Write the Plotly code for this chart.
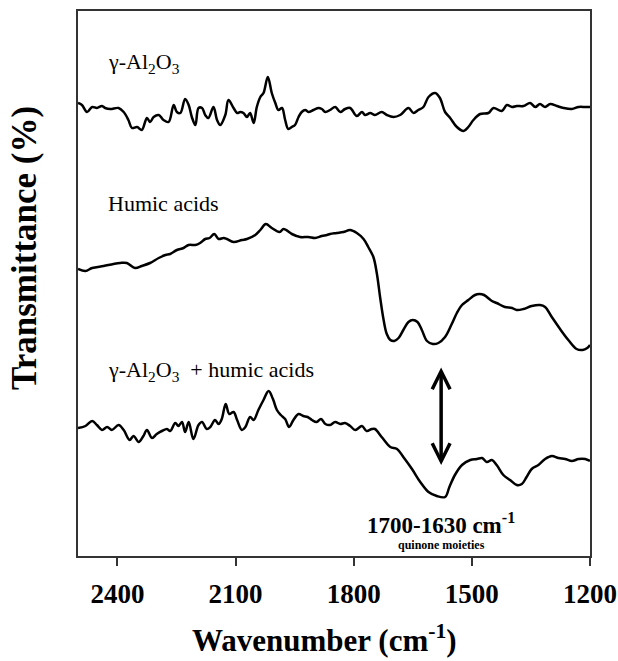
import plotly.graph_objects as go

# gamma-Al2O3 spectrum (wavenumber cm-1, relative transmittance)
al_wn = [2500, 2490, 2477, 2464, 2452, 2439, 2431, 2418, 2397, 2384, 2372, 2363, 2350, 2338, 2325, 2317,
         2308, 2295, 2283, 2270, 2257, 2249, 2240, 2228, 2219, 2211, 2202, 2194, 2185, 2177, 2169, 2156,
         2147, 2139, 2126, 2118, 2105, 2096, 2088, 2080, 2071, 2063, 2054, 2046, 2037, 2029, 2018, 2008,
         1999, 1991, 1982, 1974, 1966, 1957, 1949, 1940, 1932, 1923, 1915, 1902, 1889, 1881, 1872, 1860,
         1847, 1834, 1822, 1809, 1792, 1779, 1771, 1758, 1746, 1729, 1716, 1699, 1682, 1661, 1648, 1636,
         1623, 1610, 1593, 1581, 1568, 1555, 1538, 1521, 1509, 1496, 1479, 1458, 1445, 1424, 1411, 1398,
         1386, 1369, 1352, 1339, 1327, 1314, 1301, 1284, 1267, 1246, 1229, 1212, 1200]
al_t = [453, 451, 444, 449, 448, 450, 448, 447, 448, 444, 436, 428, 429, 426, 438, 434,
        439, 441, 436, 434, 451, 444, 443, 457, 451, 439, 431, 448, 448, 441, 438, 449,
        436, 431, 441, 456, 448, 443, 444, 443, 439, 443, 433, 449, 459, 463, 479, 463,
        453, 446, 448, 436, 427, 429, 431, 439, 444, 446, 444, 446, 448, 447, 444, 446,
        449, 444, 447, 448, 440, 444, 441, 443, 441, 444, 441, 439, 441, 448, 443, 446,
        449, 459, 463, 458, 444, 438, 429, 425, 429, 436, 442, 443, 448, 445, 451, 449,
        450, 450, 453, 449, 452, 449, 452, 450, 448, 447, 449, 449, 449]

# Humic acids spectrum
ha_wn = [2500, 2481, 2464, 2435, 2410, 2393, 2376, 2355, 2338, 2317, 2295, 2278, 2266, 2249, 2232, 2219,
         2202, 2190, 2177, 2166, 2154, 2143, 2130, 2122, 2105, 2084, 2071, 2050, 2037, 2023, 2008, 1988,
         1978, 1957, 1936, 1915, 1898, 1881, 1868, 1860, 1843, 1826, 1809, 1792, 1775, 1763, 1750, 1741,
         1733, 1724, 1716, 1707, 1697, 1686, 1674, 1661, 1650, 1638, 1627, 1614, 1599, 1585, 1568, 1551,
         1538, 1525, 1509, 1492, 1481, 1469, 1449, 1437, 1416, 1398, 1386, 1369, 1348, 1327, 1314, 1297,
         1276, 1255, 1234, 1219, 1207, 1200]
ha_t = [287, 285, 288, 290, 292, 293, 293, 288, 290, 293, 298, 301, 302, 306, 308, 311,
        311, 313, 317, 318, 322, 317, 318, 317, 314, 316, 317, 321, 326, 332, 328, 324,
        327, 322, 319, 319, 318, 320, 321, 322, 323, 324, 326, 323, 317, 309, 299, 282,
        259, 236, 222, 216, 215, 218, 226, 234, 236, 234, 226, 215, 212, 213, 219, 232,
        243, 251, 256, 261, 262, 261, 255, 253, 249, 248, 246, 247, 250, 251, 249, 239,
        227, 216, 207, 206, 208, 211]

# gamma-Al2O3 + humic acids spectrum
mix_wn = [2500, 2481, 2464, 2452, 2439, 2426, 2414, 2397, 2384, 2369, 2359, 2346, 2334, 2325, 2312, 2300,
          2287, 2274, 2266, 2253, 2245, 2236, 2228, 2219, 2207, 2194, 2185, 2173, 2164, 2152, 2143, 2135,
          2125, 2116, 2105, 2096, 2084, 2075, 2063, 2054, 2042, 2029, 2016, 2005, 1995, 1985, 1974, 1964,
          1953, 1940, 1928, 1917, 1906, 1894, 1883, 1872, 1860, 1847, 1834, 1822, 1809, 1796, 1779, 1767,
          1754, 1746, 1729, 1707, 1690, 1674, 1652, 1631, 1610, 1589, 1568, 1557, 1543, 1525, 1504, 1487,
          1474, 1462, 1449, 1437, 1420, 1403, 1386, 1373, 1361, 1348, 1331, 1314, 1297, 1280, 1263, 1246,
          1229, 1212, 1200]
mix_t = [128, 130, 135, 131, 126, 129, 126, 131, 126, 116, 120, 114, 120, 126, 118, 122,
         125, 127, 125, 133, 130, 134, 124, 134, 117, 131, 134, 127, 129, 136, 132, 137,
         152, 142, 144, 136, 126, 129, 139, 136, 146, 156, 165, 157, 146, 141, 137, 129,
         136, 142, 140, 139, 136, 134, 137, 132, 131, 134, 132, 133, 130, 126, 130, 125,
         127, 127, 119, 109, 107, 99, 87, 74, 64, 60, 59, 69, 81, 91, 96, 97,
         98, 94, 96, 91, 81, 76, 71, 72, 79, 87, 91, 97, 100, 98, 97, 95,
         97, 97, 95]

tick_vals = [2400, 2100, 1800, 1500, 1200]
tick_text = ["2400", "2100", "1800", "1500", "1200"]

arrow_wn = 1578
arrow_top = 190
arrow_bottom = 91

SERIF = "Liberation Serif, Times New Roman, serif"

fig = go.Figure()
for wn, t in [(al_wn, al_t), (ha_wn, ha_t), (mix_wn, mix_t)]:
    fig.add_trace(go.Scatter(x=wn, y=t, mode="lines",
                             line=dict(color="black", width=2.5, shape="spline", smoothing=1.0),
                             showlegend=False, hoverinfo="skip"))

labels = [
    ("γ-Al<sub>2</sub>O<sub>3</sub>", 2430, 493),
    ("Humic acids", 2430, 353),
    ("γ-Al<sub>2</sub>O<sub>3</sub>  + humic acids", 2430, 185),
]
annotations = []
for text, x, y in labels:
    annotations.append(dict(text=text, x=x, y=y, xref="x", yref="y", xanchor="left", yanchor="middle",
                            showarrow=False, font=dict(family=SERIF, size=22, color="black")))

annotations.append(dict(x=arrow_wn, y=arrow_bottom, ax=arrow_wn, ay=arrow_top, xref="x", yref="y",
                        axref="x", ayref="y", text="", showarrow=True, arrowhead=5, startarrowhead=5,
                        arrowside="end+start", arrowwidth=3.5, arrowsize=1, startarrowsize=1, arrowcolor="black"))
annotations.append(dict(text="<b>1700-1630 cm<sup>-1</sup></b>", x=arrow_wn, y=33, xref="x", yref="y",
                        showarrow=False, font=dict(family=SERIF, size=23, color="black")))
annotations.append(dict(text="<b>quinone moieties</b>", x=arrow_wn, y=11, xref="x", yref="y",
                        showarrow=False, font=dict(family=SERIF, size=12, color="black")))
annotations.append(dict(text="<b>Transmittance (%)</b>", x=25, y=248, xref="paper", yref="paper",
                        xanchor="center", yanchor="middle",
                        textangle=-90, showarrow=False, font=dict(family=SERIF, size=35, color="black")))
annotations.append(dict(text="<b>Wavenumber (cm<sup>-1</sup>)</b>", x=324, y=638, xref="paper", yref="paper",
                        xanchor="center", yanchor="middle",
                        showarrow=False, font=dict(family=SERIF, size=31, color="black")))

# convert pixel-placed titles to paper coordinates
W, H = 618, 661
L, R, T, B = 78, 28, 11, 105
for a in annotations[-2:]:
    a["x"] = (a["x"] - L) / (W - L - R)
    a["y"] = 1 - (a["y"] - T) / (H - T - B)

fig.update_layout(
    width=W, height=H, margin=dict(l=L, r=R, t=T, b=B, autoexpand=False),
    paper_bgcolor="white", plot_bgcolor="white",
    annotations=annotations,
    xaxis=dict(range=[2500, 1200], tickvals=tick_vals, ticktext=tick_text, ticks="outside", ticklen=8,
               tickwidth=1.5, tickcolor="#333", showline=True, linecolor="#333", linewidth=1.5, mirror=True,
               showgrid=False, zeroline=False, automargin=False, ticklabelstandoff=5,
               tickfont=dict(family=SERIF, size=27, color="black", weight="bold")),
    yaxis=dict(range=[0, 545], showticklabels=False, ticks="", showline=True, linecolor="#333",
               linewidth=1.5, mirror=True, showgrid=False, zeroline=False, automargin=False),
)
fig.write_html("out.html")
